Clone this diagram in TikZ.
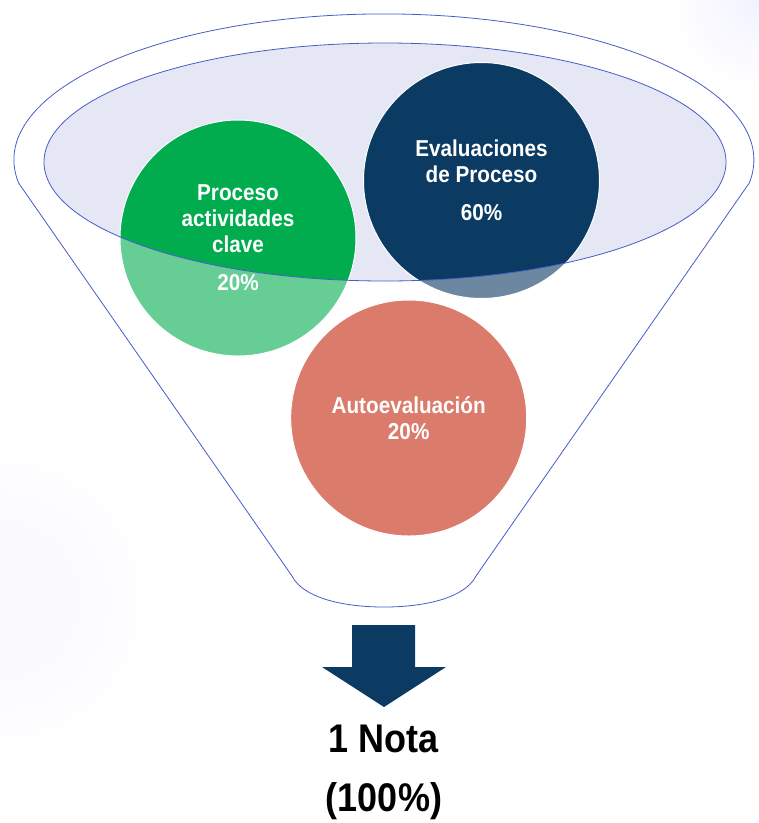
\documentclass[tikz,border=0pt]{standalone}
\usepackage{fontspec}
\newfontfamily\narrowsans{Liberation Sans}[FakeStretch=0.9]
\definecolor{navy1}{RGB}{11, 58, 98}
\definecolor{green1}{RGB}{0, 172, 78}
\definecolor{salmon1}{RGB}{219, 123, 107}
\definecolor{funnelblue}{RGB}{72, 92, 200}
\definecolor{lavender1}{RGB}{229, 231, 245}
\usetikzlibrary{positioning}

\begin{document}
\begin{tikzpicture}[x=1pt, y=1pt, yscale=-1,
    bubble/.style={circle, draw=white, line width=1pt, minimum size=236pt, inner sep=0pt,
      text=white, align=center, font=\narrowsans\bfseries\fontsize{23}{26}\selectfont},
    result/.style={anchor=base, font=\narrowsans\bfseries\fontsize{40}{44}\selectfont}]
  \useasboundingbox (0,0) rectangle (759,823);

  % faint background tint
  \shade[inner color=blue!5, outer color=white] (759,0) circle[radius=90];
  \shade[inner color=blue!3, outer color=white, opacity=0.7] (0,600) circle[radius=200];

  % funnel opening
  \fill[lavender1] (385,162) ellipse[x radius=341, y radius=119];

  % circles inside the opening
  \node[bubble, fill=green1] (actividades) at (238,238) {Proceso\\actividades\\clave\\[12pt]20\%};
  \node[bubble, fill=navy1] (evaluaciones) at (481.5,180.5) {Evaluaciones\\de Proceso\\[12pt]60\%};

  % funnel body
  \path[draw=funnelblue, line width=0.8pt, fill=white, fill opacity=0.4, even odd rule]
    (18.6,183) arc[start angle=170.9, end angle=369.1, x radius=370, y radius=146]
    -- (476,576) .. controls (466,596) and (430,607) .. (384,607)
    .. controls (338,607) and (302,596) .. (292,576) -- cycle
    (385,162) ellipse[x radius=341, y radius=119];

  % bottom circle
  \node[bubble, fill=salmon1] (auto) at (408.7,418) {Autoevaluaci\'on\\20\%};

  % result arrow
  \fill[navy1] (352,625) -- (415,625) -- (415,667) -- (446,667) -- (384,707)
    -- (322,667) -- (352,667) -- cycle;

  \node[result] (nota) at (384,752) {1 Nota};
  \node[result] (total) at (384,811) {(100\%)};
\end{tikzpicture}
\end{document}
